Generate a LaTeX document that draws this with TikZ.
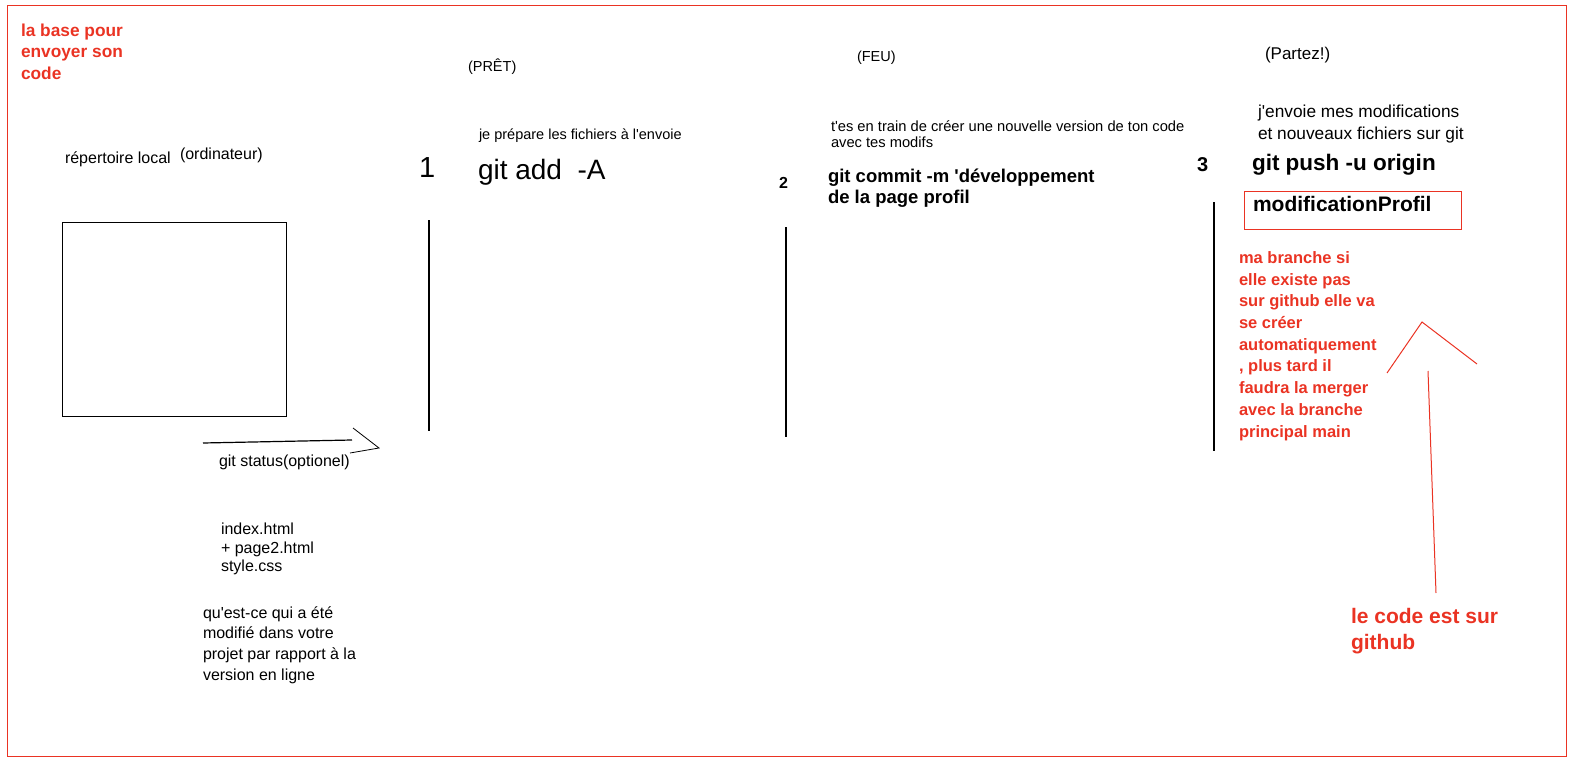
\documentclass[tikz,border=0pt]{standalone}
\usepackage{fontspec}
\setmainfont{Liberation Sans}[Ligatures=TeXOff]
\usetikzlibrary{positioning}
\definecolor{sketchred}{RGB}{234,51,35}
\tikzset{
  every node/.style={inner sep=0pt,outer sep=0pt,anchor=west,align=left},
  note/.style={font=\fontsize{16}{20}\selectfont},
  small/.style={font=\fontsize{14.5}{15.5}\selectfont},
  cmd/.style={font=\bfseries\fontsize{18.5}{21}\selectfont},
  rednote/.style={text=sketchred,font=\bfseries\fontsize{16.5}{21.7}\selectfont},
  stepline/.style={line width=1.2pt},
  redline/.style={draw=sketchred,line width=1pt}
}

\begin{document}
\begin{tikzpicture}[x=1pt,y=-1pt]
    \useasboundingbox (0,0) rectangle (1577,768);
    \draw[redline] (7,6) rectangle (1566,756);

    \node at (21, 51.7) [rednote, font=\bfseries\fontsize{17.3}{21.2}\selectfont] (title) {la base pour\\envoyer son\\code};

    % local side
    \node at (65, 159.5) [note] (local) {répertoire local};
    \node at (180, 155) [note] (pc) {(ordinateur)};
    \node at (62.3, 319.5) [draw, line width=1.2pt, minimum width=224, minimum height=194] (repo) {};
    \coordinate (st0) at (203, 443);
    \coordinate (st1) at (352, 440);
    \coordinate (sttip) at (379, 448);
    \draw[stepline] (st0) -- (st1);
    \draw[line width=0.8pt] (sttip) ++(-26,-20) -- (sttip) -- ++(-29,5);
    \node at (219, 462) [note] (status) {git status(optionel)};
    \node at (221, 549) [note, font=\fontsize{16}{18.3}\selectfont] (files) {index.html\\+ page2.html\\style.css};
    \node at (203, 645) [note, font=\fontsize{16}{20.6}\selectfont] (question) {qu'est-ce qui a été\\modifié dans votre\\projet par rapport à la\\version en ligne};

    % step 1
    \node at (468, 67) [small] (ready) {(PRÊT)};
    \node at (479, 136) [small] (addnote) {je prépare les fichiers à l'envoie};
    \node at (419, 167.5) [font=\fontsize{29}{29}\selectfont] (one) {1};
    \node at (478, 172.5) [font=\fontsize{28}{28}\selectfont] (add) {git add\ \ -A};
    \draw[stepline] (429, 220) -- (429, 431);

    % step 2
    \node at (857, 57.5) [small] (fire) {(FEU)};
    \node at (831, 134) [small, font=\fontsize{14.7}{15.5}\selectfont] (commitnote) {t'es en train de créer une nouvelle version de ton code\\avec tes modifs};
    \node at (779, 182.5) [font=\bfseries\fontsize{16}{16}\selectfont] (two) {2};
    \node at (828, 188.5) [cmd] (commit) {git commit -m 'développement\\de la page profil};
    \draw[stepline] (786, 227) -- (786, 437);

    % step 3
    \node at (1265, 54.7) [font=\fontsize{17}{17}\selectfont] (go) {(Partez!)};
    \node at (1258, 123.8) [note, font=\fontsize{17.3}{22}\selectfont] (pushnote) {j'envoie mes modifications\\et nouveaux fichiers sur git};
    \node at (1197, 164.5) [font=\bfseries\fontsize{20}{20}\selectfont] (three) {3};
    \node at (1252, 165) [font=\bfseries\fontsize{22.5}{22.5}\selectfont] (push) {git push -u origin};
    \node at (1244, 210) [draw=sketchred, line width=1pt, minimum width=217, minimum height=38] (branch) {};
    \node at (1253, 203.5) [font=\bfseries\fontsize{21}{21}\selectfont] (branchname) {modificationProfil};
    \draw[stepline] (1214, 202) -- (1214, 451);
    \node at (1239, 346) [rednote] (why) {ma branche si\\elle existe pas\\sur github elle va\\se créer\\automatiquement\\, plus tard il\\faudra la merger\\avec la branche\\principal main};

    % back to github
    \coordinate (gh) at (1436, 593);
    \coordinate (ghtop) at (1428, 371);
    \coordinate (ghtip) at (1422, 322);
    \draw[redline] (gh) -- (ghtop);
    \draw[redline] (ghtip) ++(-35,51) -- (ghtip) -- ++(55,42);
    \node at (1351, 631) [rednote, font=\bfseries\fontsize{21}{26.7}\selectfont] (ongithub) {le code est sur\\github};
\end{tikzpicture}
\end{document}
